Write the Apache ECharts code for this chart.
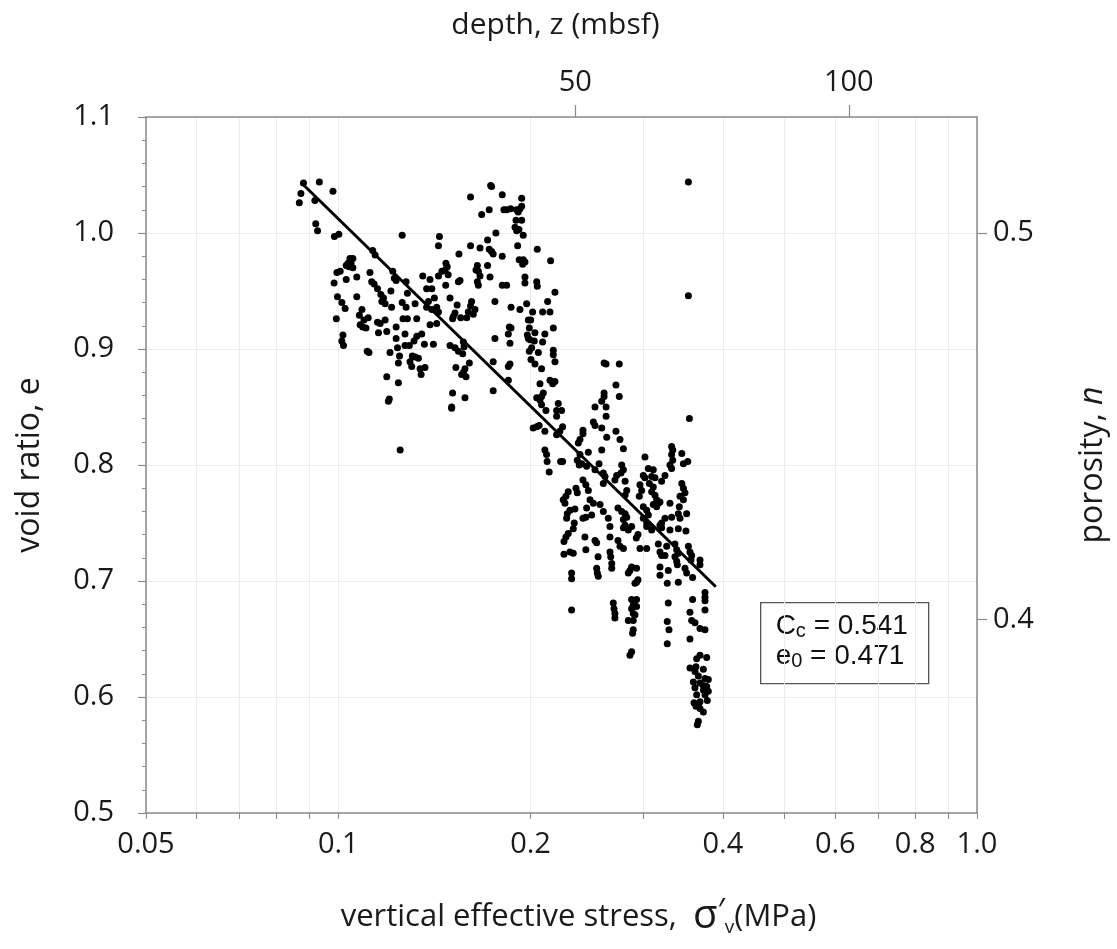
<!DOCTYPE html>
<html>
<head>
<meta charset="utf-8">
<script src="https://cdn.jsdelivr.net/npm/echarts@6/dist/echarts.min.js"></script>
<style>
html,body{margin:0;padding:0;background:#fff;}
#chart{width:1117px;height:949px;}
</style>
</head>
<body>
<div id="chart"></div>
<script>
// ---- axis ticks / labels ----
const xTickValues = [0.05,0.06,0.07,0.08,0.09,0.1,0.2,0.3,0.4,0.5,0.6,0.7,0.8,0.9,1.0];
const xLabelValues = [0.05,0.1,0.2,0.4,0.6,0.8,1.0];
const xLabelTexts = ['0.05','0.1','0.2','0.4','0.6','0.8','1.0'];
const depthTicks = [50, 100];            // depth, z (mbsf)
const depthTickStress = [0.235, 0.63];   // stress position of each depth tick
const porosityTicks = [0.4, 0.5];        // porosity n
const fitStats = ['0.541', '0.471'];     // Cc, e0

// ---- regression line (end points) ----
const fitLine = [[0.088, 1.042], [0.39, 0.695]];

// ---- data: [vertical effective stress (MPa), void ratio] ----
const groupUpper = [
[0.0882,1.043],[0.0874,1.034],[0.0869,1.026],[0.0934,1.044],[0.0919,1.028],[0.0981,1.036],[0.0922,1.008],[0.0928,1.002],[0.0986,0.997],[0.1002,0.999],
[0.1259,0.998],[0.1440,0.997],[0.1435,0.989],[0.1132,0.985],[0.1142,0.981],[0.1043,0.978],[0.1054,0.978],[0.1036,0.974],[0.1047,0.974],[0.1040,0.971],
[0.1054,0.970],[0.1029,0.972],[0.1007,0.967],[0.0995,0.966],[0.0985,0.957],[0.1029,0.960],[0.1069,0.962],[0.1121,0.966],[0.1128,0.958],[0.1138,0.956],
[0.1152,0.952],[0.1217,0.967],[0.1224,0.961],[0.1232,0.959],[0.1277,0.958],[0.1283,0.948],[0.1209,0.950],[0.1356,0.963],[0.1392,0.960],[0.1435,0.963],
[0.1375,0.952],[0.1401,0.952],[0.1384,0.941],[0.1414,0.944],[0.0997,0.945],[0.1013,0.940],[0.1025,0.935],[0.1069,0.945],[0.1166,0.947],[0.1177,0.944],
[0.1170,0.941],[0.1184,0.939],[0.1212,0.936],[0.1259,0.940],[0.1277,0.936],[0.1319,0.939],[0.1375,0.936],[0.1401,0.934],[0.1426,0.936],[0.1435,0.932],
[0.1089,0.934],[0.1079,0.929],[0.1114,0.927],[0.1097,0.925],[0.0993,0.926],[0.1082,0.921],[0.1092,0.919],[0.1105,0.918],[0.1152,0.923],[0.1163,0.922],
[0.1184,0.925],[0.1156,0.914],[0.1263,0.926],[0.1283,0.926],[0.1327,0.926],[0.1232,0.919],[0.1191,0.915],[0.1392,0.921],[0.1426,0.922],[0.1272,0.913],
[0.1351,0.913],[0.1327,0.911],[0.1017,0.912],[0.1013,0.907],[0.1019,0.903],[0.1232,0.909],[0.1314,0.907],[0.1364,0.904],[0.1409,0.904],[0.1272,0.903],
[0.1292,0.903],[0.1238,0.901],[0.1205,0.897],[0.1110,0.898],[0.1117,0.897],[0.1306,0.894],[0.1319,0.893],[0.1335,0.892],[0.1295,0.889],[0.1303,0.885],
[0.1247,0.894],[0.1242,0.888],[0.1343,0.883],[0.1367,0.884],[0.1348,0.878],[0.1191,0.876],[0.1242,0.871],[0.1202,0.857],[0.1198,0.855],[0.1250,0.813]
];
const groupMiddle = [
[0.1732,1.041],[0.1738,1.040],[0.1611,1.031],[0.1806,1.033],[0.1937,1.030],[0.1723,1.020],[0.1677,1.016],[0.1817,1.020],[0.1835,1.020],[0.1862,1.021],
[0.1902,1.020],[0.1925,1.021],[0.1937,1.023],[0.1913,1.018],[0.1898,1.011],[0.1937,1.011],[0.1891,1.005],[0.1902,1.002],[0.1918,1.003],[0.1948,0.998],
[0.1765,1.000],[0.1713,0.994],[0.1611,0.989],[0.1667,0.987],[0.1723,0.986],[0.1738,0.984],[0.1748,0.982],[0.1909,0.989],[0.2049,0.986],[0.1545,0.982],
[0.1806,0.980],[0.1920,0.977],[0.1948,0.977],[0.1960,0.975],[0.1944,0.973],[0.2150,0.976],[0.1474,0.974],[0.1481,0.971],[0.1470,0.968],[0.1453,0.967],
[0.1486,0.964],[0.1651,0.972],[0.1643,0.968],[0.1657,0.967],[0.1667,0.963],[0.1651,0.958],[0.1657,0.955],[0.1713,0.972],[0.1728,0.962],[0.1551,0.959],
[0.1542,0.958],[0.1473,0.955],[0.1806,0.955],[0.1835,0.955],[0.1960,0.962],[0.1960,0.957],[0.2045,0.958],[0.2049,0.954],[0.2184,0.949],[0.1496,0.944],
[0.1759,0.941],[0.2127,0.941],[0.1972,0.939],[0.1535,0.938],[0.1617,0.941],[0.1611,0.937],[0.1637,0.934],[0.1627,0.930],[0.1598,0.932],[0.1589,0.927],
[0.1864,0.936],[0.1925,0.934],[0.2015,0.932],[0.2089,0.932],[0.2145,0.932],[0.1523,0.931],[0.1514,0.928],[0.1510,0.926],[0.1555,0.927],[0.1984,0.925],
[0.2001,0.925],[0.1853,0.919],[0.1864,0.918],[0.1991,0.918],[0.1977,0.912],[0.1984,0.909],[0.1996,0.908],[0.2032,0.914],[0.2027,0.907],[0.2171,0.918],
[0.2106,0.913],[0.1846,0.913],[0.1759,0.909],[0.2089,0.906],[0.1857,0.905],[0.1496,0.903],[0.1523,0.901],[0.1542,0.898],[0.1570,0.906],[0.1574,0.902],
[0.1566,0.896],[0.2008,0.901],[0.1991,0.898],[0.2057,0.897],[0.2171,0.899],[0.2171,0.895],[0.2184,0.889],[0.2003,0.891],[0.2032,0.887],[0.1748,0.889],
[0.1604,0.888],[0.1528,0.884],[0.1857,0.887],[0.1846,0.885],[0.2081,0.883],[0.1579,0.883],[0.1570,0.880],[0.1560,0.878],[0.1585,0.876],[0.1846,0.873],
[0.2069,0.870],[0.2145,0.873],[0.2166,0.870],[0.2184,0.872],[0.1748,0.864],[0.1510,0.862],[0.1579,0.858],[0.2094,0.862],[0.2045,0.858],[0.2069,0.856],
[0.2081,0.859],[0.1505,0.850],[0.1505,0.849],[0.2210,0.853],[0.2197,0.847],[0.2237,0.847],[0.2197,0.842],[0.2114,0.847],[0.2081,0.852],[0.2019,0.832],
[0.2045,0.833],[0.2063,0.834],[0.2106,0.829],[0.2197,0.826],[0.2223,0.829],[0.2245,0.833],[0.2416,0.830],[0.2416,0.827],[0.2376,0.819],[0.2390,0.822],
[0.2106,0.813],[0.2119,0.809],[0.2123,0.803],[0.2139,0.794],[0.2229,0.803],[0.2245,0.803],[0.2367,0.804],[0.2390,0.809],[0.2384,0.800],[0.2405,0.801],
[0.2448,0.799],[0.2463,0.811],[0.2416,0.787],[0.2441,0.783],[0.2463,0.778],[0.2291,0.777],[0.2272,0.773],[0.2250,0.770],[0.2264,0.767],[0.2356,0.780],
[0.2367,0.776],[0.2305,0.761],[0.2283,0.758],[0.2278,0.754],[0.2347,0.762],[0.2448,0.763],[0.2416,0.754],[0.2441,0.755],[0.2341,0.750],[0.2333,0.745],
[0.2291,0.741],[0.2272,0.738],[0.2256,0.734],[0.2433,0.738],[0.2441,0.727],[0.2305,0.725],[0.2333,0.724],[0.2256,0.723],[0.2319,0.707],[0.2319,0.702],
[0.2319,0.675]
];
const groupLower = [
[0.3533,1.044],[0.3533,0.946],[0.2607,0.888],[0.2626,0.887],[0.2754,0.887],[0.2721,0.869],[0.2754,0.859],[0.2607,0.862],[0.2607,0.859],[0.2585,0.855],
[0.2523,0.850],[0.2626,0.850],[0.2626,0.842],[0.3546,0.840],[0.2508,0.837],[0.2523,0.834],[0.2585,0.832],[0.2632,0.824],[0.2721,0.829],[0.2761,0.822],
[0.2795,0.814],[0.2585,0.813],[0.3021,0.807],[0.3326,0.816],[0.3339,0.813],[0.3326,0.809],[0.3339,0.804],[0.3306,0.800],[0.3326,0.797],[0.3450,0.810],
[0.3470,0.801],[0.3525,0.803],[0.2560,0.801],[0.2523,0.796],[0.2778,0.800],[0.2795,0.796],[0.2771,0.793],[0.2728,0.791],[0.2711,0.787],[0.2600,0.793],
[0.2616,0.790],[0.2600,0.784],[0.3058,0.797],[0.3113,0.796],[0.3003,0.791],[0.3021,0.789],[0.3095,0.790],[0.3132,0.789],[0.3247,0.791],[0.3208,0.786],
[0.2967,0.783],[0.2985,0.778],[0.2960,0.773],[0.3069,0.784],[0.3113,0.781],[0.3095,0.777],[0.3132,0.774],[0.3151,0.770],[0.3189,0.768],[0.3450,0.784],
[0.3470,0.780],[0.3490,0.776],[0.3428,0.773],[0.3470,0.770],[0.2812,0.786],[0.2829,0.778],[0.2812,0.774],[0.2478,0.770],[0.2508,0.767],[0.2569,0.766],
[0.2600,0.760],[0.2493,0.757],[0.2741,0.763],[0.2778,0.760],[0.2812,0.758],[0.2829,0.755],[0.2795,0.753],[0.3003,0.764],[0.3040,0.761],[0.3058,0.757],
[0.3003,0.754],[0.3040,0.750],[0.3113,0.766],[0.3151,0.764],[0.3170,0.767],[0.3306,0.767],[0.3326,0.755],[0.3247,0.754],[0.3208,0.750],[0.3419,0.764],
[0.3407,0.758],[0.3428,0.754],[0.3511,0.758],[0.2647,0.754],[0.2663,0.747],[0.2812,0.748],[0.2795,0.746],[0.2845,0.744],[0.2879,0.747],[0.3040,0.747],
[0.3058,0.748],[0.3095,0.744],[0.3189,0.748],[0.3208,0.746],[0.3306,0.744],[0.3407,0.745],[0.3502,0.743],[0.2946,0.740],[0.2928,0.737],[0.2663,0.738],
[0.2523,0.735],[0.2538,0.733],[0.2741,0.735],[0.2761,0.730],[0.2795,0.728],[0.2967,0.728],[0.3040,0.728],[0.3170,0.732],[0.3189,0.725],[0.3208,0.722],
[0.3267,0.730],[0.3247,0.722],[0.3366,0.732],[0.3387,0.727],[0.3407,0.724],[0.3366,0.721],[0.3387,0.717],[0.3395,0.714],[0.3533,0.730],[0.3553,0.725],
[0.3575,0.722],[0.3566,0.718],[0.3684,0.718],[0.3684,0.714],[0.2551,0.721],[0.2663,0.725],[0.2670,0.721],[0.2680,0.715],[0.2680,0.711],[0.2538,0.711],
[0.2544,0.707],[0.2553,0.704],[0.2879,0.712],[0.2862,0.709],[0.2845,0.707],[0.2931,0.711],[0.2946,0.701],[0.2931,0.699],[0.2914,0.698],[0.3189,0.712],
[0.3189,0.705],[0.3286,0.709],[0.3274,0.698],[0.3407,0.699],[0.3490,0.711],[0.3511,0.707],[0.3587,0.703],[0.3751,0.690],[0.3751,0.686],[0.3751,0.683],
[0.3751,0.675],[0.3587,0.684],[0.2695,0.681],[0.2702,0.676],[0.2711,0.672],[0.2711,0.668],[0.2879,0.684],[0.2931,0.684],[0.2896,0.679],[0.2879,0.676],
[0.2931,0.678],[0.2896,0.672],[0.2914,0.671],[0.2845,0.666],[0.2896,0.666],[0.2896,0.658],[0.2889,0.655],[0.2879,0.639],[0.2862,0.636],[0.3286,0.681],
[0.3274,0.665],[0.3294,0.658],[0.3274,0.646],[0.3553,0.673],[0.3575,0.666],[0.3618,0.664],[0.3684,0.659],[0.3751,0.658],[0.3553,0.650],[0.3684,0.636],
[0.3640,0.633],[0.3774,0.634],[0.3553,0.625],[0.3631,0.626],[0.3618,0.622],[0.3729,0.624],[0.3662,0.618],[0.3751,0.616],[0.3796,0.615],[0.3597,0.613],
[0.3684,0.612],[0.3729,0.610],[0.3774,0.609],[0.3618,0.608],[0.3729,0.606],[0.3796,0.605],[0.3640,0.602],[0.3751,0.602],[0.3782,0.597],[0.3684,0.596],
[0.3605,0.595],[0.3662,0.593],[0.3684,0.590],[0.3729,0.587],[0.3631,0.592],[0.3662,0.579],[0.3649,0.576]
];

const FONT = "'Open Sans', 'Noto Sans', sans-serif";
const BOXFONT = "'Liberation Sans', Arial, sans-serif";
const AXIS_GRAY = '#8a8a8a';
const GRID_GRAY = '#ececec';
const TXT = '#1a1a1a';
const TICK_FS = 29;
const TITLE_FS = 31;

function xLabel(v) {
  for (let i = 0; i < xLabelValues.length; i++) {
    if (Math.abs(v - xLabelValues[i]) < 1e-6) return xLabelTexts[i];
  }
  return '';
}

const chart = echarts.init(document.getElementById('chart'), null, {renderer: 'canvas'});

const mkScatter = (name, data) => ({
  name: name, type: 'scatter', xAxisIndex: 0, yAxisIndex: 0,
  data: data, symbol: 'circle', symbolSize: 7,
  itemStyle: {color: '#000', opacity: 1}, silent: true, z: 3
});

chart.setOption({
  animation: false,
  backgroundColor: '#fff',
  grid: {left: 146, right: 140, top: 117, bottom: 136, containLabel: false},
  xAxis: [
    {
      type: 'log', logBase: 10, min: 0.05, max: 1, position: 'bottom',
      name: 'vertical effective stress,  {sig|σ}{pr|′}{sub|v}{n|(MPa)}',
      nameLocation: 'middle', nameGap: 84,
      nameTextStyle: {
        fontFamily: FONT, fontSize: TITLE_FS, color: TXT, padding: [0, 0, 0, 34],
        rich: {
          sig: {fontFamily: FONT, fontSize: 40, color: TXT, verticalAlign: 'bottom', lineHeight: 40},
          pr: {fontFamily: FONT, fontSize: 32, color: TXT, verticalAlign: 'top', lineHeight: 30},
          sub: {fontFamily: FONT, fontSize: 19, color: TXT, verticalAlign: 'bottom', lineHeight: 8},
          n: {fontFamily: FONT, fontSize: TITLE_FS, color: TXT}
        }
      },
      axisLine: {show: true, lineStyle: {color: AXIS_GRAY, width: 1.5}},
      axisTick: {show: true, length: 6, customValues: xTickValues, lineStyle: {color: AXIS_GRAY, width: 1}},
      axisLabel: {show: true, customValues: xLabelValues, formatter: xLabel, margin: 17,
        fontFamily: FONT, fontSize: TICK_FS, color: TXT},
      splitLine: {show: true, lineStyle: {color: GRID_GRAY, width: 1}},
      minorTick: {show: false}, minorSplitLine: {show: false}
    },
    {
      type: 'log', logBase: 10, min: 0.05, max: 1, position: 'top',
      name: 'depth, z (mbsf)', nameLocation: 'middle', nameGap: 77,
      nameTextStyle: {fontFamily: FONT, fontSize: 30, color: TXT, padding: [0, 12, 0, 0]},
      axisLine: {show: true, lineStyle: {color: AXIS_GRAY, width: 1.5}},
      axisTick: {show: true, length: 12, inside: false, customValues: depthTickStress, lineStyle: {color: AXIS_GRAY, width: 1.2}},
      axisLabel: {show: true, customValues: depthTickStress, margin: 20,
        formatter: (v) => {
          for (let i = 0; i < depthTickStress.length; i++) {
            if (Math.abs(v - depthTickStress[i]) < 1e-6) return String(depthTicks[i]);
          }
          return '';
        },
        fontFamily: FONT, fontSize: TICK_FS, color: TXT},
      splitLine: {show: false}
    }
  ],
  yAxis: [
    {
      type: 'value', min: 0.5, max: 1.1, interval: 0.1, position: 'left',
      name: 'void ratio, e', nameLocation: 'middle', nameGap: 100, nameRotate: 90,
      nameTextStyle: {fontFamily: FONT, fontSize: 32, color: TXT},
      axisLine: {show: true, lineStyle: {color: AXIS_GRAY, width: 1.5}},
      axisTick: {show: true, length: 8, lineStyle: {color: AXIS_GRAY, width: 1.2}},
      minorTick: {show: true, splitNumber: 5, length: 4, lineStyle: {color: AXIS_GRAY, width: 1}},
      axisLabel: {formatter: (v) => v.toFixed(1), margin: 32, fontFamily: FONT, fontSize: TICK_FS, color: TXT},
      splitLine: {show: true, lineStyle: {color: GRID_GRAY, width: 1}}
    },
    {
      type: 'value', min: 0.5, max: 1.1, position: 'right',
      name: 'porosity, {it|n}', nameLocation: 'middle', nameGap: 100, nameRotate: 90,
      nameTextStyle: {fontFamily: FONT, fontSize: 32, color: TXT,
        rich: {it: {fontFamily: FONT, fontSize: 32, fontStyle: 'italic', color: TXT}}},
      axisLine: {show: true, lineStyle: {color: AXIS_GRAY, width: 1.5}},
      axisTick: {show: true, length: 10, customValues: porosityTicks.map(n => n / (1 - n)),
        lineStyle: {color: AXIS_GRAY, width: 1.2}},
      axisLabel: {show: true, customValues: porosityTicks.map(n => n / (1 - n)), margin: 16,
        formatter: (v) => (v / (1 + v)).toFixed(1),
        fontFamily: FONT, fontSize: TICK_FS, color: TXT},
      splitLine: {show: false}
    }
  ],
  series: [
    mkScatter('upper', groupUpper),
    mkScatter('middle', groupMiddle),
    mkScatter('lower', groupLower),
    {
      name: 'fit', type: 'line', xAxisIndex: 0, yAxisIndex: 0,
      data: fitLine, showSymbol: false, symbol: 'none', silent: true, z: 4,
      lineStyle: {color: '#000', width: 3}
    }
  ],
  graphic: [
    {
      type: 'group', left: 760, top: 602,
      children: [
        {type: 'rect', shape: {x: 0, y: 0, width: 168, height: 81},
         style: {fill: '#fff', stroke: '#555', lineWidth: 1.3}},
        {type: 'text', x: 15, y: 9,
         style: {
           text: '{m|C}{s|c}{m| = ' + fitStats[0] + '}\n{m|e}{s|0}{m| = ' + fitStats[1] + '}',
           rich: {
             m: {fontFamily: BOXFONT, fontSize: 28, lineHeight: 30, fill: '#111'},
             s: {fontFamily: BOXFONT, fontSize: 20, lineHeight: 1, verticalAlign: 'bottom', fill: '#111'}
           }
         }}
      ]
    }
  ]
});
</script>
</body>
</html>
